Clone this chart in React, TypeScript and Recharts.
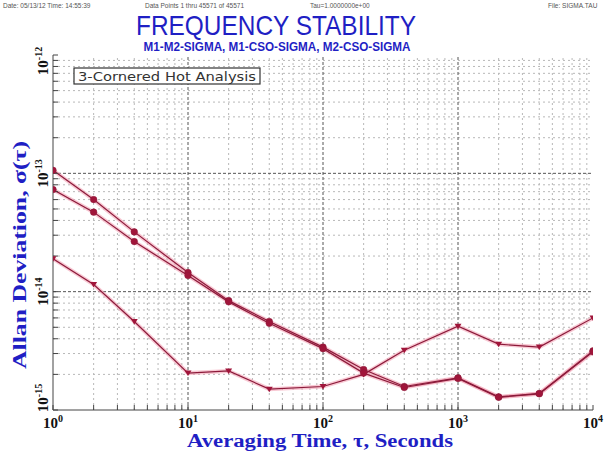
import React from "react";
import { LineChart, Line, XAxis, YAxis, ReferenceLine } from "recharts";

// averaging times (s) and Allan deviations
const tau = [1, 2, 4, 10, 20, 40, 100, 200, 400, 1000, 2000, 4000, 10000];
const m1CsoSigma = [1.06e-13, 6.0e-14, 3.2e-14, 1.45e-14, 8.4e-15, 5.6e-15, 3.4e-15, 2.2e-15, 1.58e-15, 1.87e-15, 1.29e-15, 1.38e-15, 3.16e-15];
const m2CsoSigma = [7.3e-14, 4.7e-14, 2.65e-14, 1.37e-14, 8.2e-15, 5.4e-15, 3.3e-15, 2.05e-15, 1.55e-15, 1.85e-15, 1.28e-15, 1.37e-15, 3.1e-15];
const m1M2Sigma = [1.9e-14, 1.15e-14, 5.6e-15, 2.05e-15, 2.14e-15, 1.5e-15, 1.58e-15, 2.0e-15, 3.2e-15, 5.1e-15, 3.6e-15, 3.4e-15, 6.0e-15];

const xExponents = [0, 1, 2, 3, 4];
const yExponents = [-15, -14, -13, -12];
const minorMultipliers = [2, 3, 4, 5, 6, 7, 8, 9];

const data = tau.map((t, i) => ({
  tau: t,
  m1cso: m1CsoSigma[i],
  m2cso: m2CsoSigma[i],
  m1m2: m1M2Sigma[i],
}));

const xMajor = xExponents.map((e) => Math.pow(10, e));
const yMajor = yExponents.map((e) => Math.pow(10, e));
const xMinor = xExponents.slice(0, -1).flatMap((e) => minorMultipliers.map((m) => m * Math.pow(10, e)));
const yMinor = yExponents.slice(0, -1).flatMap((e) => minorMultipliers.map((m) => m * Math.pow(10, e)));
const xAll = [...xMajor, ...xMinor].sort((a, b) => a - b);
const yAll = [...yMajor, ...yMinor].sort((a, b) => a - b);

const BLUE = "#1f1fc4";
const LINE = "#8c1a3a";
const HALO = "#f3a3b6";
const DOT = "#a0153a";

const isDecade = (v: number) => Math.abs(Math.log10(v) - Math.round(Math.log10(v))) < 1e-6;

const XTick = (props: any) => {
  const { x, y, payload } = props;
  if (!isDecade(payload.value)) return <g />;
  const e = Math.round(Math.log10(payload.value));
  return (
    <text x={x} y={y + 23} textAnchor="middle" fontFamily="Liberation Serif" fontWeight="bold" fontSize={15} fill="#111">
      10<tspan dy={-6} fontSize={10}>{e}</tspan>
    </text>
  );
};

const YTick = (props: any) => {
  const { x, y, payload } = props;
  if (!isDecade(payload.value)) return <g />;
  const e = Math.round(Math.log10(payload.value));
  const cy = e === -12 ? y + 6 : e === -15 ? y - 12 : y;
  const cx = x - 10;
  return (
    <text x={cx} y={cy} transform={`rotate(-90 ${cx} ${cy})`} textAnchor="middle" fontFamily="Liberation Serif" fontWeight="bold" fontSize={15} fill="#111">
      10<tspan dy={-6} fontSize={10}>{e}</tspan>
    </text>
  );
};

const Empty = () => <g />;

const circleDot = (props: any) => {
  const { cx, cy, index } = props;
  return <circle key={index} cx={cx} cy={cy} r={3.3} fill={DOT} stroke={LINE} strokeWidth={0.5} />;
};

const triDot = (props: any) => {
  const { cx, cy, index } = props;
  return <path key={index} d={`M${cx - 3.5},${cy - 2.5} L${cx + 3.5},${cy - 2.5} L${cx},${cy + 3} Z`} fill={DOT} />;
};

export default function App() {
  return (
    <div style={{ position: "absolute", left: 0, top: 0, width: 609, height: 459, background: "#fff" }}>
      <LineChart width={609} height={459} data={data} margin={{ top: 55, right: 16, bottom: 19, left: 33 }}>
        <XAxis
          dataKey="tau"
          type="number"
          scale="log"
          domain={[1, 10000]}
          allowDataOverflow
          ticks={xAll}
          interval={0}
          height={30}
          tickSize={-5}
          tickMargin={0}
          stroke="#444"
          tick={<XTick />}
        />
        <XAxis xAxisId="top" orientation="top" dataKey="tau" type="number" scale="log" domain={[1, 10000]} allowDataOverflow ticks={xAll} interval={0} height={0} tickSize={-5} stroke="#444" tick={<Empty />} />
        <YAxis
          type="number"
          scale="log"
          domain={[1e-15, 1e-12]}
          allowDataOverflow
          ticks={yAll}
          interval={0}
          width={20}
          tickSize={-5}
          tickMargin={0}
          stroke="#444"
          tick={<YTick />}
        />
        <YAxis yAxisId="right" orientation="right" type="number" scale="log" domain={[1e-15, 1e-12]} allowDataOverflow ticks={yAll} interval={0} width={0} tickSize={-5} stroke="#444" tick={<Empty />} />

        {xMinor.map((v) => (
          <ReferenceLine key={`xm${v}`} x={v} stroke="#b8b8b8" strokeDasharray="2 3" />
        ))}
        {yMinor.map((v) => (
          <ReferenceLine key={`ym${v}`} y={v} stroke="#b8b8b8" strokeDasharray="2 3" />
        ))}
        {xMajor.slice(1, -1).map((v) => (
          <ReferenceLine key={`xM${v}`} x={v} stroke="#555" strokeDasharray="3 2" />
        ))}
        {yMajor.slice(1, -1).map((v) => (
          <ReferenceLine key={`yM${v}`} y={v} stroke="#555" strokeDasharray="3 2" />
        ))}

        <Line dataKey="m1cso" stroke={HALO} strokeWidth={4} strokeOpacity={0.6} dot={false} isAnimationActive={false} />
        <Line dataKey="m2cso" stroke={HALO} strokeWidth={4} strokeOpacity={0.6} dot={false} isAnimationActive={false} />
        <Line dataKey="m1m2" stroke={HALO} strokeWidth={4} strokeOpacity={0.6} dot={false} isAnimationActive={false} />
        <Line dataKey="m1cso" stroke={LINE} strokeWidth={1.2} dot={circleDot} isAnimationActive={false} />
        <Line dataKey="m2cso" stroke={LINE} strokeWidth={1.2} dot={circleDot} isAnimationActive={false} />
        <Line dataKey="m1m2" stroke={LINE} strokeWidth={1.2} dot={triDot} isAnimationActive={false} />
      </LineChart>

      <svg width={609} height={459} style={{ position: "absolute", left: 0, top: 0, pointerEvents: "none" }}>
        <g fontFamily="Liberation Sans" fontSize={6.5} fill="#555">
          <text x={3} y={8}>Date: 05/13/12   Time: 14:55:39</text>
          <text x={145} y={8}>Data Points 1 thru 45571 of 45571</text>
          <text x={310} y={8}>Tau=1.0000000e+00</text>
          <text x={548} y={8}>File: SIGMA.TAU</text>
        </g>
        <text x={276} y={35} textAnchor="middle" fontFamily="Liberation Sans" fontSize={28} fill={BLUE} textLength={280} lengthAdjust="spacingAndGlyphs">
          FREQUENCY STABILITY
        </text>
        <text x={277} y={51} textAnchor="middle" fontFamily="Liberation Sans" fontWeight="bold" fontSize={12.5} fill={BLUE} textLength={267} lengthAdjust="spacingAndGlyphs">
          M1-M2-SIGMA, M1-CSO-SIGMA, M2-CSO-SIGMA
        </text>
        <rect x={74} y={68} width={186} height={16} fill="#fff" stroke="#333" strokeWidth={1.2} />
        <text x={167} y={81} textAnchor="middle" fontFamily="DejaVu Sans" fontSize={13} fill="#333" textLength={178} lengthAdjust="spacingAndGlyphs">
          3-Cornered Hot Analysis
        </text>
        <text x={320} y={447} textAnchor="middle" fontFamily="Liberation Serif" fontWeight="bold" fontSize={18} fill={BLUE} textLength={266} lengthAdjust="spacingAndGlyphs">
          Averaging Time, τ, Seconds
        </text>
        <text x={26} y={255} transform="rotate(-90 26 255)" textAnchor="middle" fontFamily="Liberation Serif" fontWeight="bold" fontSize={19} fill={BLUE} textLength={228} lengthAdjust="spacingAndGlyphs">
          Allan Deviation, σ(τ)
        </text>
      </svg>
    </div>
  );
}
